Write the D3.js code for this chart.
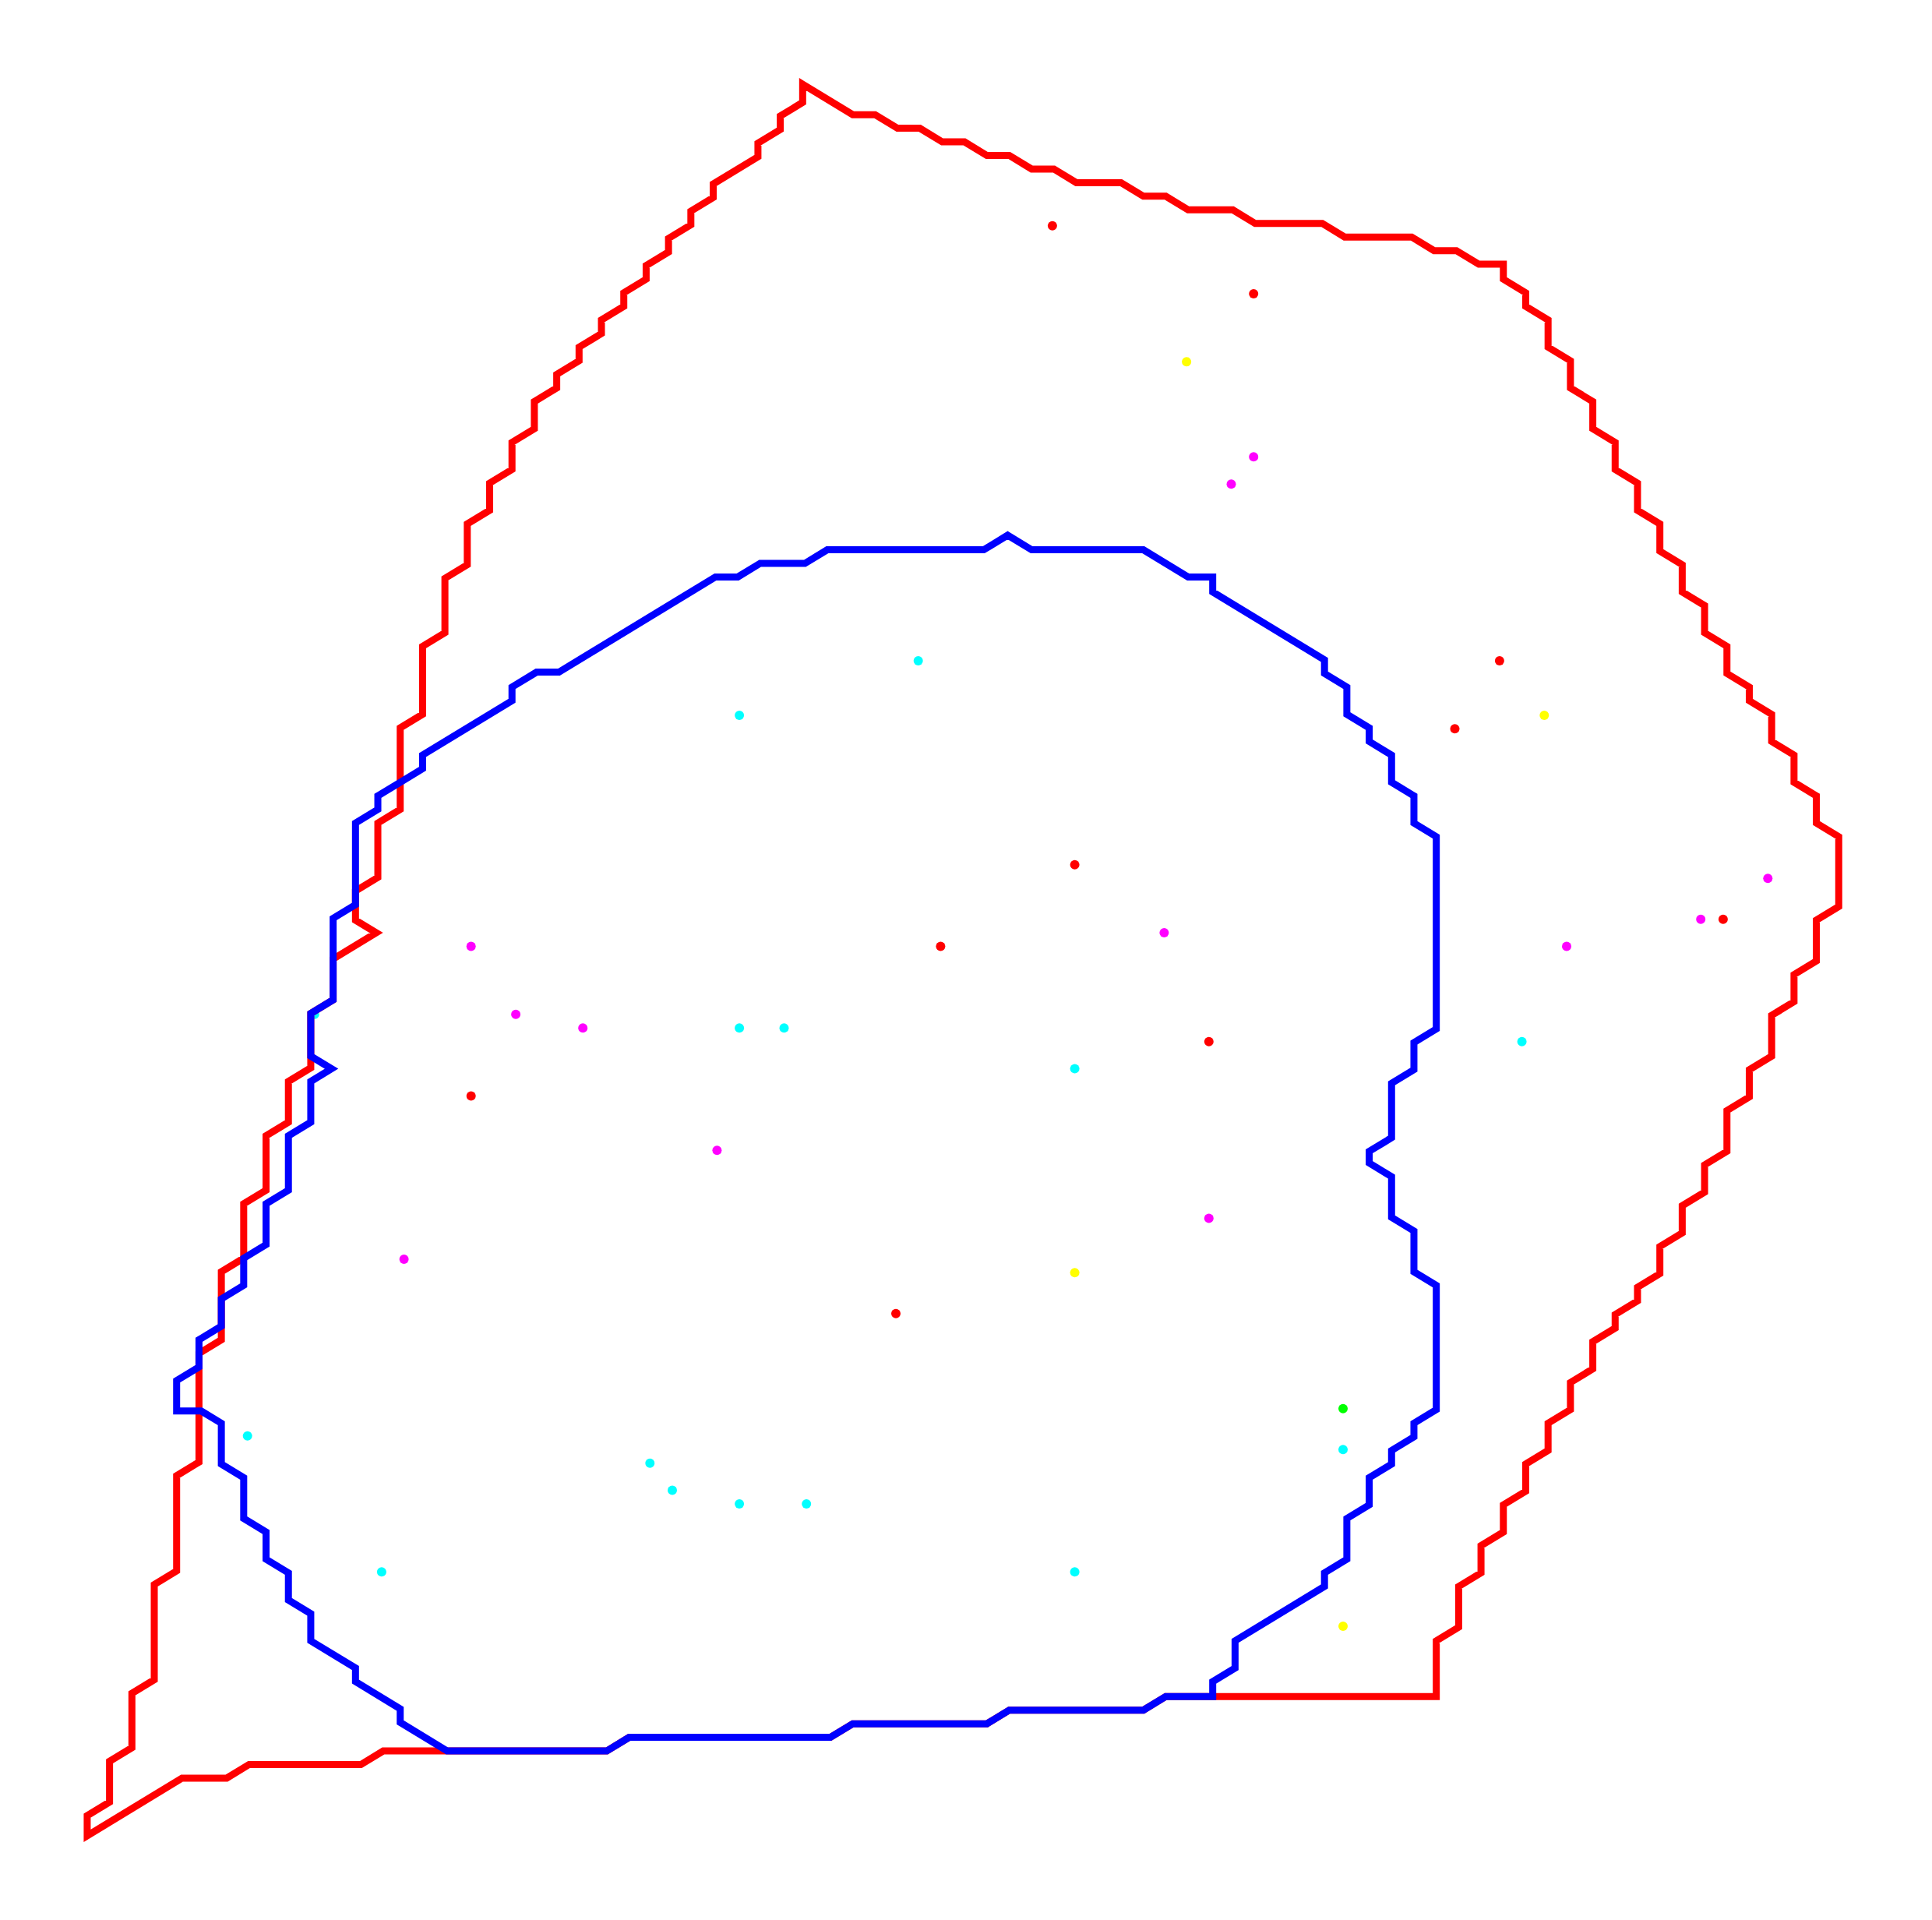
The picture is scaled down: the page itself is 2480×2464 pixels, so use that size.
<!DOCTYPE html>
<html>
<head>
<meta charset="utf-8">
<script src="https://cdn.jsdelivr.net/npm/d3@7"></script>
<style>
  html, body { margin: 0; padding: 0; background: #ffffff; }
  svg { display: block; }
</style>
</head>
<body>
<svg id="chart" width="2480" height="2464"></svg>
<script>
// ---- Data (grid coordinates: column u, row v) ----
const redOutline = [
  [32,0],[34,2],[35,2],[36,3],[37,3],[38,4],[39,4],[40,5],[41,5],[42,6],[43,6],[44,7],[46,7],[47,8],[48,8],
  [49,9],[51,9],[52,10],[55,10],[56,11],[59,11],[60,12],[61,12],[62,13],[63,13],[63,14],[64,15],[64,16],
  [65,17],[65,19],[66,20],[66,22],[67,23],[67,25],[68,26],[68,28],[69,29],[69,31],[70,32],[70,34],[71,35],
  [71,37],[72,38],[72,40],[73,41],[73,43],[74,44],[74,45],[75,46],[75,48],[76,49],[76,51],[77,52],[77,54],
  [78,55],[78,60],[77,61],[77,64],[76,65],[76,67],[75,68],[75,71],[74,72],[74,74],[73,75],[73,78],[72,79],
  [72,81],[71,82],[71,84],[70,85],[70,87],[69,88],[69,89],[68,90],[68,91],[67,92],[67,94],[66,95],[66,97],
  [65,98],[65,100],[64,101],[64,103],[63,104],[63,106],[62,107],[62,109],[61,110],[61,113],[60,114],[60,118],
  [48,118],[47,119],[41,119],[40,120],[34,120],[33,121],[24,121],[23,122],[13,122],[12,123],[7,123],[6,124],
  [4,124],[0,128],[0,127],[1,126],[1,123],[2,122],[2,118],[3,117],[3,110],[4,109],[4,102],[5,101],[5,93],
  [6,92],[6,87],[7,86],[7,82],[8,81],[8,77],[9,76],[9,73],[10,72],[10,68],[11,67],[11,64],[13,62],[12,61],
  [12,59],[13,58],[13,54],[14,53],[14,47],[15,46],[15,41],[16,40],[16,36],[17,35],[17,32],[18,31],[18,29],
  [19,28],[19,26],[20,25],[20,23],[21,22],[21,21],[22,20],[22,19],[23,18],[23,17],[24,16],[24,15],[25,14],
  [25,13],[26,12],[26,11],[27,10],[27,9],[28,8],[28,7],[30,5],[30,4],[31,3],[31,2],[32,1]
];

const blueOutline = [
  [41,33],[42,34],[47,34],[49,36],[50,36],[50,37],[55,42],[55,43],[56,44],[56,46],[57,47],[57,48],[58,49],
  [58,51],[59,52],[59,54],[60,55],[60,69],[59,70],[59,72],[58,73],[58,77],[57,78],[57,79],[58,80],[58,83],
  [59,84],[59,87],[60,88],[60,97],[59,98],[59,99],[58,100],[58,101],[57,102],[57,104],[56,105],[56,108],
  [55,109],[55,110],[51,114],[51,116],[50,117],[50,118],[48,118],[47,119],[41,119],[40,120],[34,120],
  [33,121],[24,121],[23,122],[16,122],[14,120],[14,119],[12,117],[12,116],[10,114],[10,112],[9,111],[9,109],
  [8,108],[8,106],[7,105],[7,102],[6,101],[6,98],[5,97],[4,97],[4,95],[5,94],[5,92],[6,91],[6,89],[7,88],
  [7,86],[8,85],[8,82],[9,81],[9,77],[10,76],[10,73],[11,72],[10,71],[10,68],[11,67],[11,61],[12,60],
  [12,54],[13,53],[13,52],[15,50],[15,49],[19,45],[19,44],[20,43],[21,43],[28,36],[29,36],[30,35],[32,35],
  [33,34],[40,34]
];

const redDots = [[43,10],[52,15],[63,42],[61,47],[44,57],[73,61],[38,63],[50,70],[17,74],[36,90]];
const magentaDots = [[52,27],[51,29],[75,58],[72,61],[48,62],[66,63],[17,63],[19,68],[22,69],[28,78],[50,83],[14,86]];
const cyanDots = [[37,42],[29,46],[10,68],[29,69],[31,69],[64,70],[44,72],[7,99],[56,100],[25,101],[26,103],[29,104],[32,104],[13,109],[44,109]];
const yellowDots = [[49,20],[65,46],[44,87],[56,113]];
const greenDots = [[56,97]];

// ---- Styles / layout ----
const OUTLINE_OFFSET = 0.17;   // outward offset of outlines, in grid units
const LINE_WIDTH = 9;
const DOT_R = 6;

const svg = d3.select("#chart");
svg.append("rect").attr("width", 2480).attr("height", 2464).attr("fill", "#ffffff");

const x = d3.scaleLinear().domain([0, 78]).range([116.8, 116.8 + 28.7 * 78]);
const y = d3.scaleLinear().domain([0, 128]).range([115.2, 115.2 + 17.45 * 128]);

// Offset a closed polygon outward (miter) in grid space
function offsetPolygon(pts, d) {
  const n = pts.length;
  let area = 0;
  for (let i = 0; i < n; i++) {
    const a = pts[i], b = pts[(i + 1) % n];
    area += a[0] * b[1] - b[0] * a[1];
  }
  const s = area > 0 ? 1 : -1;
  const normal = (a, b) => {
    const dx = b[0] - a[0], dy = b[1] - a[1];
    const L = Math.hypot(dx, dy);
    return [s * dy / L, -s * dx / L];
  };
  return pts.map((p, i) => {
    const prev = pts[(i - 1 + n) % n], next = pts[(i + 1) % n];
    const n1 = normal(prev, p), n2 = normal(p, next);
    const k = 1 + n1[0] * n2[0] + n1[1] * n2[1];
    const f = k > 1e-6 ? d / k : d;
    return [p[0] + (n1[0] + n2[0]) * f, p[1] + (n1[1] + n2[1]) * f];
  });
}

const line = d3.line().x(d => x(d[0])).y(d => y(d[1]));

// Dots (drawn beneath the outlines)
const dotGroups = [
  { data: cyanDots, color: "#00ffff" },
  { data: magentaDots, color: "#ff00ff" },
  { data: redDots, color: "#ff0000" },
  { data: yellowDots, color: "#ffff00" },
  { data: greenDots, color: "#00ff00" }
];
dotGroups.forEach(g => {
  svg.append("g").selectAll("circle").data(g.data).join("circle")
    .attr("cx", d => x(d[0])).attr("cy", d => y(d[1]))
    .attr("r", DOT_R).attr("fill", g.color);
});

// Outlines
[{ data: redOutline, color: "#ff0000" }, { data: blueOutline, color: "#0000ff" }].forEach(o => {
  svg.append("path")
    .attr("d", line(offsetPolygon(o.data, OUTLINE_OFFSET)) + "Z")
    .attr("fill", "none")
    .attr("stroke", o.color)
    .attr("stroke-width", LINE_WIDTH)
    .attr("stroke-linejoin", "miter");
});
</script>
</body>
</html>
